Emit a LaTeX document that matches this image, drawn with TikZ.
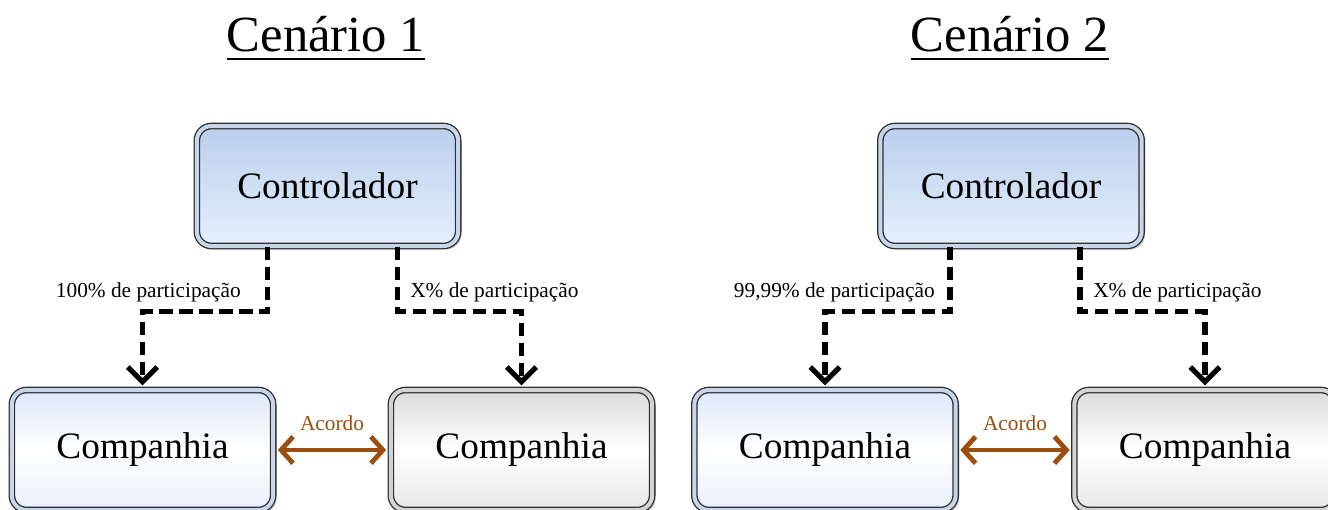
\documentclass[tikz,border=0pt]{standalone}
\usepackage{fontspec}
\setmainfont{Liberation Serif}
\usetikzlibrary{%
  calc,arrows.meta,shadows}
\tikzset {>=Stealth}
\definecolor{borda}{RGB}{45,48,54}
\definecolor{faixaazul}{RGB}{200,214,232}
\definecolor{faixacinza}{RGB}{212,212,212}
\definecolor{ctrlcima}{RGB}{186,207,237}
\definecolor{ctrlbaixo}{RGB}{230,239,251}
\definecolor{compcima}{RGB}{220,232,249}
\definecolor{compbaixo}{RGB}{232,240,252}
\definecolor{cinzacima}{RGB}{220,220,220}
\definecolor{cinzabaixo}{RGB}{232,232,232}
\definecolor{marrom}{RGB}{155,78,14}

\begin{document}
\begin{tikzpicture}[x=.75pt,y=-.75pt,
  caixa/.style={rectangle,rounded corners=11pt,draw=borda,line width=1pt,
    double distance=3pt,minimum width=196pt,minimum height=90pt,
    font=\fontsize{28}{32}\selectfont,
    drop shadow={shadow xshift=2.5pt,shadow yshift=-2.5pt,opacity=.4}},
  controlador/.style={caixa,double=faixaazul,top color=ctrlcima,bottom color=ctrlbaixo},
  companhia/.style={caixa,double=faixaazul,top color=compcima,bottom color=compbaixo,middle color=white},
  companhia2/.style={caixa,double=faixacinza,top color=cinzacima,bottom color=cinzabaixo,middle color=white},
  titulo/.style={anchor=base,inner sep=0pt,font=\fontsize{38}{42}\selectfont},
  sublinha/.style={line width=1.6pt},
  rotulo/.style={inner sep=0pt,font=\fontsize{16}{18}\selectfont},
  fluxo/.style={line width=3.8pt,dash pattern=on 10pt off 5pt,shorten >=3pt,
    -{Straight Barb[length=11pt,width=22pt]}},
  acordo/.style={marrom,line width=3.6pt,shorten >=3pt,shorten <=3pt,
    {Straight Barb[length=9pt,width=20pt]}-{Straight Barb[length=9pt,width=20pt]}}]
\useasboundingbox (0,0) rectangle (1328,510);
% titulos
\node[titulo] (titA) at (326,52) {Cenário 1};
\node[titulo] (titB) at (1010,52) {Cenário 2};
\draw[sublinha] ($(titA.base west)+(0,7)$) -- ($(titA.base east)+(0,7)$);
\draw[sublinha] ($(titB.base west)+(0,7)$) -- ($(titB.base east)+(0,7)$);
% caixas
\node[controlador] (ctrlA) at (327.5,186) {Controlador};
\node[controlador] (ctrlB) at (1011,186) {Controlador};
\node[companhia] (compA) at (142.5,450) {Companhia};
\node[companhia2] (compB) at (521.5,450) {Companhia};
\node[companhia] (compC) at (825,450) {Companhia};
\node[companhia2] (compD) at (1205,450) {Companhia};
% participacoes
\draw[fluxo] ($(ctrlA.south)+(-60,0)$) -- ++(0,65) -| (compA.north);
\draw[fluxo] ($(ctrlA.south)+(70,0)$) -- ++(0,65) -| (compB.north);
\draw[fluxo] ($(ctrlB.south)+(-61,0)$) -- ++(0,65) -| (compC.north);
\draw[fluxo] ($(ctrlB.south)+(69,0)$) -- ++(0,65) -| (compD.north);
\node[rotulo,anchor=east] (partA) at (241,292) {100\% de participação};
\node[rotulo,anchor=west] (partB) at (410,292) {X\% de participação};
\node[rotulo,anchor=east] (partC) at (935,292) {99,99\% de participação};
\node[rotulo,anchor=west] (partD) at (1093,292) {X\% de participação};
% acordos
\draw[acordo] (compA.east) --
  node[above=13pt,rotulo,text=marrom] (acA) {Acordo} (compB.west);
\draw[acordo] (compC.east) --
  node[above=13pt,rotulo,text=marrom] (acB) {Acordo} (compD.west);
\end{tikzpicture}
\end{document}
